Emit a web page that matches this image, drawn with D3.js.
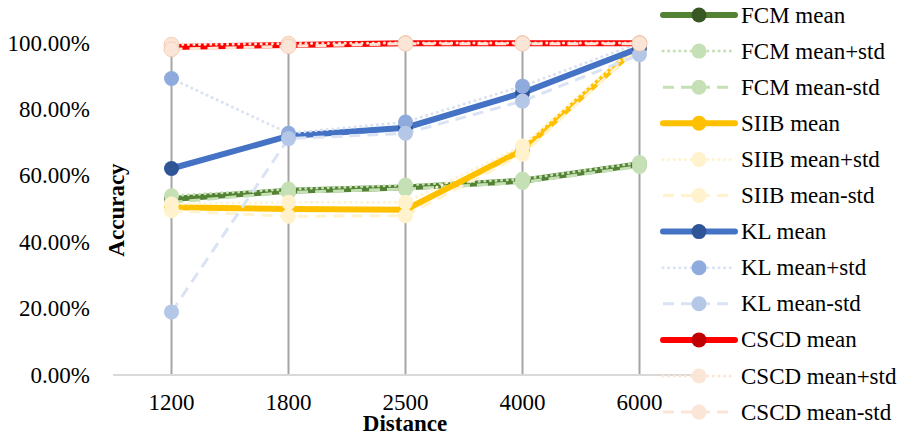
<!DOCTYPE html>
<html>
<head>
<meta charset="utf-8">
<script src="https://cdn.jsdelivr.net/npm/d3@7"></script>
<style>
    body { margin: 0; background: #fff; }
    text { font-family: "Liberation Serif", "Times New Roman", serif; fill: #000; }
</style>
</head>
<body>
<script>
// data
var CATEGORIES = ["1200", "1800", "2500", "4000", "6000"];

var FCM_MEAN = [0.530, 0.555, 0.565, 0.585, 0.635];
var FCM_PLUS = [0.540, 0.560, 0.572, 0.590, 0.640];
var FCM_MINUS = [0.520, 0.550, 0.560, 0.580, 0.628];

var SIIB_MEAN = [0.505, 0.500, 0.498, 0.678, 0.995];
var SIIB_PLUS = [0.515, 0.520, 0.520, 0.690, 1.000];
var SIIB_MINUS = [0.495, 0.478, 0.480, 0.665, 0.990];

var KL_MEAN = [0.622, 0.720, 0.745, 0.850, 0.985];
var KL_PLUS = [0.893, 0.728, 0.762, 0.870, 1.000];
var KL_MINUS = [0.190, 0.712, 0.728, 0.825, 0.965];

var CSCD_MEAN = [0.988, 0.994, 0.999, 0.999, 0.999];
var CSCD_PLUS = [0.995, 0.998, 1.000, 1.000, 1.000];
var CSCD_MINUS = [0.981, 0.990, 0.998, 0.998, 0.998];

var Y_TICKS = [0, 0.2, 0.4, 0.6, 0.8, 1.0];

// series table, in drawing / legend order
var SERIES = [
    {name: "FCM mean", values: FCM_MEAN, line: "#548235", marker: "#385723", kind: "mean"},
    {name: "FCM mean+std", values: FCM_PLUS, line: "#C5E0B4", marker: "#C5E0B4", kind: "dot"},
    {name: "FCM mean-std", values: FCM_MINUS, line: "#C5E0B4", marker: "#C5E0B4", kind: "dash"},
    {name: "SIIB mean", values: SIIB_MEAN, line: "#FFC000", marker: "#FFC000", kind: "mean"},
    {name: "SIIB mean+std", values: SIIB_PLUS, line: "#FFF2CC", marker: "#FFF2CC", kind: "dot"},
    {name: "SIIB mean-std", values: SIIB_MINUS, line: "#FFF2CC", marker: "#FFF2CC", kind: "dash"},
    {name: "KL mean", values: KL_MEAN, line: "#4472C4", marker: "#2F5597", kind: "mean"},
    {name: "KL mean+std", values: KL_PLUS, line: "#DAE3F3", marker: "#8FAADC", kind: "dot"},
    {name: "KL mean-std", values: KL_MINUS, line: "#DAE3F3", marker: "#B4C7E7", kind: "dash"},
    {name: "CSCD mean", values: CSCD_MEAN, line: "#FF0000", marker: "#C00000", kind: "mean"},
    {name: "CSCD mean+std", values: CSCD_PLUS, line: "#FBE5D6", marker: "#FBE5D6", kind: "dot"},
    {name: "CSCD mean-std", values: CSCD_MINUS, line: "#FBE5D6", marker: "#FBE5D6", kind: "dash"}
];

var WIDTH = 905, HEIGHT = 438;
var PLOT = {left: 113, right: 698, top: 43, bottom: 375};

var svg = d3.select("body").append("svg")
    .attr("width", WIDTH)
    .attr("height", HEIGHT);

// scales
var xScale = d3.scaleBand().domain(CATEGORIES).range([PLOT.left, PLOT.right]).padding(0);
var yScale = d3.scaleLinear().domain([0, 1]).range([PLOT.bottom, PLOT.top]);

function cx(c) {
    return xScale(c) + xScale.bandwidth() / 2;
}

function styleLine(sel, d) {
    sel.attr("fill", "none")
        .attr("stroke", d.line);
    if (d.kind === "mean") {
        sel.attr("stroke-width", 6).attr("stroke-linecap", "round");
    } else if (d.kind === "dot") {
        sel.attr("stroke-width", 3).attr("stroke-linecap", "round")
            .attr("stroke-dasharray", "0.1,5.5");
    } else {
        sel.attr("stroke-width", 3).attr("stroke-linecap", "butt")
            .attr("stroke-dasharray", "11,7");
    }
    return sel;
}

// y axis tick labels
svg.append("g").selectAll("text")
    .data(Y_TICKS)
    .enter().append("text")
    .attr("x", 90)
    .attr("y", function (d) { return yScale(d); })
    .attr("dy", "0.33em")
    .attr("text-anchor", "end")
    .style("font-size", "23px")
    .text(d3.format(".2%"));

// drop lines from the highest point of each category down to the axis
svg.append("g").selectAll("line")
    .data(CATEGORIES)
    .enter().append("line")
    .attr("x1", cx).attr("x2", cx)
    .attr("y1", function (c, i) {
        return yScale(d3.max(SERIES, function (s) { return s.values[i]; }));
    })
    .attr("y2", PLOT.bottom)
    .attr("stroke", "#A5A5A5")
    .attr("stroke-width", 2);

// x axis line
svg.append("line")
    .attr("x1", PLOT.left).attr("x2", PLOT.right)
    .attr("y1", PLOT.bottom).attr("y2", PLOT.bottom)
    .attr("stroke", "#D9D9D9")
    .attr("stroke-width", 2);

// x tick labels
svg.append("g").selectAll("text")
    .data(CATEGORIES)
    .enter().append("text")
    .attr("x", cx)
    .attr("y", 410)
    .attr("text-anchor", "middle")
    .style("font-size", "23px")
    .text(function (d) { return d; });

// axis titles
svg.append("text")
    .attr("x", 405).attr("y", 431)
    .attr("text-anchor", "middle")
    .style("font-size", "23px").style("font-weight", "bold")
    .text("Distance");

svg.append("text")
    .attr("transform", "translate(124,210) rotate(-90)")
    .attr("text-anchor", "middle")
    .style("font-size", "23px").style("font-weight", "bold")
    .text("Accuracy");

// series lines and markers
var line = d3.line()
    .x(function (d, i) { return cx(CATEGORIES[i]); })
    .y(function (d) { return yScale(d); });

SERIES.forEach(function (s) {
    var g = svg.append("g");
    styleLine(g.append("path").datum(s.values).attr("d", line), s);
    g.selectAll("circle")
        .data(s.values)
        .enter().append("circle")
        .attr("cx", function (d, i) { return cx(CATEGORIES[i]); })
        .attr("cy", function (d) { return yScale(d); })
        .attr("r", 7.5)
        .attr("fill", s.marker)
        .attr("stroke", s.name.indexOf("CSCD mean") === 0 && s.kind !== "mean" ? "#F4C7AC" : "none")
        .attr("stroke-width", 0.8);
});

// legend
var legend = svg.append("g").selectAll("g")
    .data(SERIES)
    .enter().append("g")
    .attr("transform", function (d, i) { return "translate(0," + (15 + i * 36.1) + ")"; });

legend.each(function (d) {
    var g = d3.select(this);
    styleLine(g.append("line").attr("x1", 663).attr("x2", 735).attr("y1", 0).attr("y2", 0), d);
    g.append("circle")
        .attr("cx", 699).attr("cy", 0).attr("r", 7.5)
        .attr("fill", d.marker);
    g.append("text")
        .attr("x", 741).attr("y", 0).attr("dy", "0.33em")
        .style("font-size", "23px")
        .text(d.name);
});
</script>
</body>
</html>
